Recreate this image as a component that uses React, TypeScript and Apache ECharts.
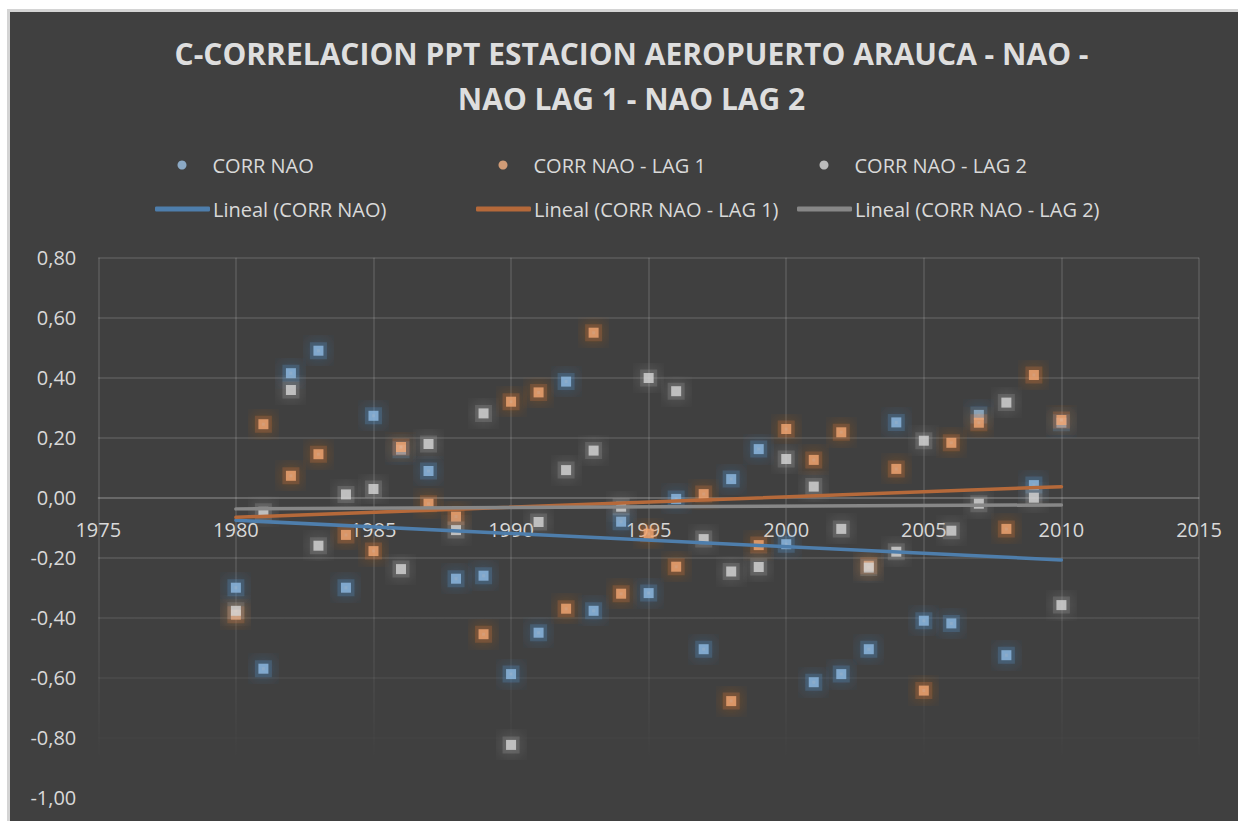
import React, { useEffect, useRef } from "react";
import * as echarts from "echarts";

const years = [1980, 1981, 1982, 1983, 1984, 1985, 1986, 1987, 1988, 1989, 1990, 1991, 1992, 1993, 1994, 1995, 1996, 1997, 1998, 1999, 2000, 2001, 2002, 2003, 2004, 2005, 2006, 2007, 2008, 2009, 2010];
const corrNao = [-0.30, -0.57, 0.415, 0.49, -0.30, 0.273, 0.16, 0.089, -0.27, -0.26, -0.588, -0.45, 0.387, -0.377, -0.08, -0.318, -0.004, -0.505, 0.062, 0.162, -0.155, -0.615, -0.588, -0.505, 0.251, -0.41, -0.419, 0.276, -0.525, 0.042, 0.25];
const corrNaoLag1 = [-0.39, 0.245, 0.073, 0.145, -0.124, -0.178, 0.169, -0.02, -0.063, -0.455, 0.32, 0.351, -0.37, 0.55, -0.32, -0.12, -0.23, 0.012, -0.678, -0.158, 0.229, 0.126, 0.218, -0.227, 0.096, -0.643, 0.183, 0.25, -0.104, 0.409, 0.259];
const corrNaoLag2 = [-0.377, -0.047, 0.359, -0.16, 0.011, 0.029, -0.238, 0.179, -0.108, 0.281, -0.824, -0.081, 0.092, 0.157, -0.03, 0.399, 0.355, -0.138, -0.246, -0.231, 0.129, 0.037, -0.104, -0.233, -0.18, 0.19, -0.11, -0.02, 0.317, 0.0, -0.358];

const seriesNames = ["CORR NAO", "CORR NAO - LAG 1", "CORR NAO - LAG 2"];
const trendNames = ["Lineal (CORR NAO)", "Lineal (CORR NAO - LAG 1)", "Lineal (CORR NAO - LAG 2)"];
const titleText = "C-CORRELACION PPT ESTACION AEROPUERTO ARAUCA - NAO -\nNAO LAG 1 - NAO LAG 2";

const X_MIN = 1975, X_MAX = 2015, X_STEP = 5;
const Y_MIN = -1, Y_MAX = 0.8, Y_STEP = 0.2;

const markerColors = ["#9dc3e6", "#f4b183", "#d9d9d9"];
const glowColors = ["#3d7fc0", "#d0661f", "#9a9a9a"];
const haloColors = ["rgba(91,155,213,0.28)", "rgba(237,125,49,0.26)", "rgba(190,190,190,0.22)"];
const trendColors = ["#4e7eac", "#b5693a", "#878787"];

function linearFit(xs: number[], ys: number[]) {
  const n = xs.length;
  const mx = xs.reduce((a, b) => a + b, 0) / n;
  const my = ys.reduce((a, b) => a + b, 0) / n;
  let sxy = 0, sxx = 0;
  for (let i = 0; i < n; i++) {
    sxy += (xs[i] - mx) * (ys[i] - my);
    sxx += (xs[i] - mx) * (xs[i] - mx);
  }
  const b = sxy / sxx;
  const a = my - b * mx;
  return (x: number) => a + b * x;
}

const FONT = "'Open Sans', 'Noto Sans', sans-serif";
const TEXT = "#d9d9d9";
const W = 1228, H = 809;

export default function App() {
  const ref = useRef<HTMLDivElement>(null);
  useEffect(() => {
    if (!ref.current) return;
    const chart = echarts.init(ref.current, undefined, { renderer: "svg", width: W, height: H });
    const gridLeft = 88.3, gridRight = 39, gridTop = 245.7, gridBottom = 23.3;
    const gridHeight = H - gridTop - gridBottom;
    const zeroOffset = -((0 - Y_MIN) / (Y_MAX - Y_MIN)) * gridHeight;
    const gridGrad = new echarts.graphic.LinearGradient(
      0, gridTop, 0, H - gridBottom,
      [
        { offset: 0, color: "rgba(255,255,255,0.14)" },
        { offset: 0.55, color: "rgba(255,255,255,0.14)" },
        { offset: 0.93, color: "rgba(255,255,255,0)" },
        { offset: 1, color: "rgba(255,255,255,0)" },
      ],
      true
    );
    const allY = [corrNao, corrNaoLag1, corrNaoLag2];
    const scatterSeries = allY.map((ys, i) => ({
      name: seriesNames[i],
      type: "scatter",
      symbol: "rect",
      symbolSize: 10,
      data: years.map((y, j) => [y, ys[j]]),
      itemStyle: {
        color: markerColors[i],
        borderColor: haloColors[i],
        borderWidth: 7,
        shadowBlur: 18,
        shadowColor: glowColors[i],
      },
      z: 2,
    }));
    const x0 = years[0], x1 = years[years.length - 1];
    const trendSeries = allY.map((ys, i) => {
      const f = linearFit(years, ys);
      return {
        name: trendNames[i],
        type: "line",
        showSymbol: false,
        symbol: "none",
        data: [[x0, f(x0)], [x1, f(x1)]],
        lineStyle: { color: trendColors[i], width: 3.5, cap: "round" },
        itemStyle: { color: trendColors[i] },
        z: 3,
      };
    });
    const legendText = { color: TEXT, fontSize: 20, fontFamily: FONT, lineHeight: 24 };
    const row1X = [167.5, 488.5, 809.5];
    const row2X = [145, 466, 787];
    const legends: any[] = [];
    seriesNames.forEach((n, i) => {
      legends.push({
        data: [{ name: n, icon: "circle" }],
        left: row1X[i],
        top: 141,
        padding: 0,
        itemWidth: 9,
        itemHeight: 10,
        itemStyle: { shadowBlur: 0, borderWidth: 0, color: markerColors[i] },
        textStyle: { ...legendText, padding: [0, 0, 0, 21] },
        selectedMode: false,
      });
    });
    trendNames.forEach((n, i) => {
      legends.push({
        data: [{ name: n, icon: "roundRect" }],
        left: row2X[i],
        top: 185,
        padding: 0,
        itemWidth: 55,
        itemHeight: 5,
        textStyle: { ...legendText, padding: [0, 0, 0, -2] },
        selectedMode: false,
      });
    });
    chart.setOption({
      animation: false,
      backgroundColor: "#404040",
      title: {
        text: titleText,
        left: 621.5,
        top: 19,
        textAlign: "center",
        padding: 0,
        textStyle: {
          color: "#dedede",
          fontSize: 30,
          fontWeight: "bold",
          fontFamily: FONT,
          lineHeight: 45,
        },
      },
      legend: legends,
      grid: {
        left: gridLeft,
        right: gridRight,
        top: gridTop,
        bottom: gridBottom,
        containLabel: false,
        outerBoundsMode: "none",
      },
      xAxis: {
        type: "value",
        min: X_MIN,
        max: X_MAX,
        interval: X_STEP,
        position: "bottom",
        offset: zeroOffset,
        axisLine: { show: true, onZero: false, lineStyle: { color: "rgba(255,255,255,0.16)", width: 1.5 } },
        axisTick: { show: false },
        axisLabel: {
          color: TEXT,
          fontSize: 20,
          fontFamily: FONT,
          margin: 22,
          formatter: (v: number) => String(v),
        },
        splitLine: { show: true, lineStyle: { color: gridGrad, width: 1.5 } },
      },
      yAxis: {
        type: "value",
        min: Y_MIN,
        max: Y_MAX,
        interval: Y_STEP,
        axisLine: { show: false, onZero: false },
        axisTick: { show: false },
        axisLabel: {
          color: TEXT,
          fontSize: 20,
          fontFamily: FONT,
          margin: 22,
          formatter: (v: number) => {
            let r = Math.round(v * 100) / 100;
            if (Math.abs(r) < 1e-9) r = 0;
            return r.toFixed(2).replace(".", ",");
          },
        },
        splitLine: { show: true, lineStyle: { color: gridGrad, width: 1.5 } },
      },
      series: [...scatterSeries, ...trendSeries],
    });
    return () => chart.dispose();
  }, []);
  return (
    <div style={{ position: "fixed", left: 0, top: 0, width: 1238, height: 821, background: "#ffffff", overflow: "hidden" }}>
      <div style={{ position: "absolute", left: 7, top: 9, width: 1240, height: 830, background: "#d4d4d4" }} />
      <div ref={ref} style={{ position: "absolute", left: 10, top: 12, width: W, height: H }} />
    </div>
  );
}
